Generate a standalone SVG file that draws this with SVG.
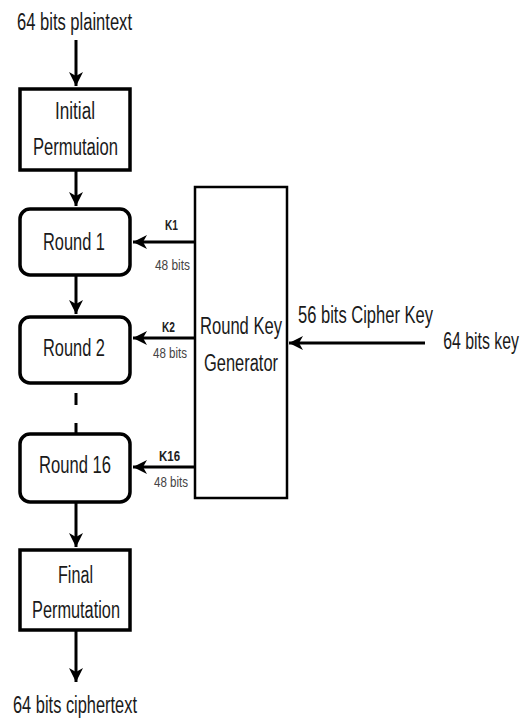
<svg xmlns="http://www.w3.org/2000/svg" width="525" height="719" viewBox="0 0 525 719">
<style>
  .t { font-family: "Liberation Sans", Arial, sans-serif; font-size: 23px; fill: #1a1a1a; }
  .k { font-family: "Liberation Sans", Arial, sans-serif; font-size: 14px; font-weight: bold; fill: #222; }
  .b { font-family: "Liberation Sans", Arial, sans-serif; font-size: 14px; fill: #444; }
  .box { fill: #fff; stroke: #000; stroke-width: 3.5; }
  .gen { fill: #fff; stroke: #000; stroke-width: 2.5; }
  .ln { stroke: #000; stroke-width: 3; fill: none; }
</style>
<defs>
  <marker id="ah" markerUnits="userSpaceOnUse" markerWidth="16" markerHeight="14" refX="14" refY="7" orient="auto">
    <path d="M0,0 L14,7 L0,14 L4,7 z" fill="#000"/>
  </marker>
</defs>
<rect width="525" height="719" fill="#fff"/>

<g id="connectors">
  <line class="ln" x1="76" y1="40" x2="76" y2="86" marker-end="url(#ah)"/>
  <line class="ln" x1="76" y1="171" x2="76" y2="206" marker-end="url(#ah)"/>
  <line class="ln" x1="76" y1="276" x2="76" y2="314" marker-end="url(#ah)"/>
  <line class="ln" x1="76" y1="393" x2="76" y2="405"/>
  <line class="ln" x1="76" y1="423" x2="76" y2="433"/>
  <line class="ln" x1="76" y1="503" x2="76" y2="547" marker-end="url(#ah)"/>
  <line class="ln" x1="76" y1="631" x2="76" y2="682" marker-end="url(#ah)"/>
  <line class="ln" x1="195" y1="242" x2="133" y2="242" marker-end="url(#ah)"/>
  <line class="ln" x1="195" y1="338" x2="133" y2="338" marker-end="url(#ah)"/>
  <line class="ln" x1="195" y1="467" x2="133" y2="467" marker-end="url(#ah)"/>
  <line class="ln" x1="425" y1="343" x2="289" y2="343" marker-end="url(#ah)"/>
  <text class="k" x="171.5" y="230" text-anchor="middle" textLength="13" lengthAdjust="spacingAndGlyphs">K1</text>
  <text class="b" x="172.5" y="270" text-anchor="middle" textLength="35" lengthAdjust="spacingAndGlyphs">48 bits</text>
  <text class="k" x="168.5" y="332" text-anchor="middle" textLength="13" lengthAdjust="spacingAndGlyphs">K2</text>
  <text class="b" x="170" y="358" text-anchor="middle" textLength="34" lengthAdjust="spacingAndGlyphs">48 bits</text>
  <text class="k" x="169.5" y="461" text-anchor="middle" textLength="21" lengthAdjust="spacingAndGlyphs">K16</text>
  <text class="b" x="171" y="487" text-anchor="middle" textLength="34" lengthAdjust="spacingAndGlyphs">48 bits</text>
  <text class="t" x="365.5" y="323" text-anchor="middle" textLength="135" lengthAdjust="spacingAndGlyphs">56 bits Cipher Key</text>
</g>

<g id="plaintext">
  <text class="t" x="74.5" y="30" text-anchor="middle" textLength="115" lengthAdjust="spacingAndGlyphs">64 bits plaintext</text>
</g>

<g id="initial-permutation">
  <rect class="box" x="20" y="89" width="110" height="81"/>
  <text class="t" x="75" y="119" text-anchor="middle" textLength="40" lengthAdjust="spacingAndGlyphs">Initial</text>
  <text class="t" x="75.5" y="155" text-anchor="middle" textLength="85" lengthAdjust="spacingAndGlyphs">Permutaion</text>
</g>

<g id="round1">
  <rect class="box" x="20" y="209" width="110" height="66" rx="10"/>
  <text class="t" x="74" y="250" text-anchor="middle" textLength="62" lengthAdjust="spacingAndGlyphs">Round 1</text>
</g>

<g id="round2">
  <rect class="box" x="20" y="317" width="110" height="66" rx="10"/>
  <text class="t" x="74" y="356" text-anchor="middle" textLength="62" lengthAdjust="spacingAndGlyphs">Round 2</text>
</g>

<g id="round16">
  <rect class="box" x="20" y="434" width="110" height="68" rx="10"/>
  <text class="t" x="75" y="473" text-anchor="middle" textLength="72" lengthAdjust="spacingAndGlyphs">Round 16</text>
</g>

<g id="round-key-generator">
  <rect class="gen" x="195" y="187" width="92" height="311"/>
  <text class="t" x="241" y="334" text-anchor="middle" textLength="82" lengthAdjust="spacingAndGlyphs">Round Key</text>
  <text class="t" x="241" y="371" text-anchor="middle" textLength="74" lengthAdjust="spacingAndGlyphs">Generator</text>
</g>

<g id="key64">
  <text class="t" transform="translate(519,349) scale(0.69,1)" x="0" y="0" text-anchor="end">64 bits key</text>
</g>

<g id="final-permutation">
  <rect class="box" x="20" y="550" width="110" height="80"/>
  <text class="t" x="75.5" y="583" text-anchor="middle" textLength="35" lengthAdjust="spacingAndGlyphs">Final</text>
  <text class="t" x="76" y="618" text-anchor="middle" textLength="88" lengthAdjust="spacingAndGlyphs">Permutation</text>
</g>

<g id="ciphertext">
  <text class="t" x="75" y="713" text-anchor="middle" textLength="124" lengthAdjust="spacingAndGlyphs">64 bits ciphertext</text>
</g>
</svg>
